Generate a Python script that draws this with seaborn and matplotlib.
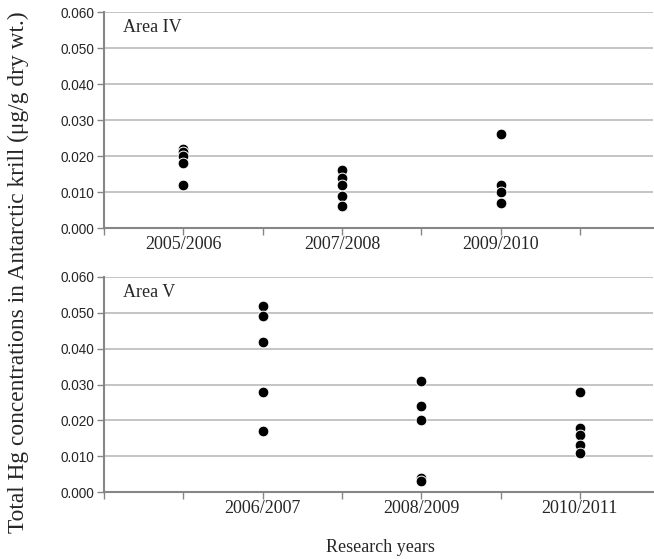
import matplotlib
matplotlib.use("Agg")
import matplotlib.pyplot as plt
import seaborn as sns
import pandas as pd
import numpy as np

# ---- data ----
top_years = ["2005/2006", "2007/2008", "2009/2010"]
top_values = [
    [0.022, 0.021, 0.020, 0.018, 0.012],
    [0.016, 0.014, 0.012, 0.009, 0.006],
    [0.026, 0.012, 0.010, 0.007],
]
bottom_years = ["2006/2007", "2008/2009", "2010/2011"]
bottom_values = [
    [0.052, 0.049, 0.042, 0.028, 0.017],
    [0.031, 0.024, 0.020, 0.004, 0.003],
    [0.028, 0.018, 0.016, 0.013, 0.011],
]
y_ticks = [0.0, 0.01, 0.02, 0.03, 0.04, 0.05, 0.06]
panel_titles = ["Area IV", "Area V"]
y_label = "Total Hg concentrations in Antarctic krill (μg/g dry wt.)"
x_label = "Research years"

sns.set_theme(style="white")
plt.rcParams["font.family"] = ["DejaVu Sans"]

W, H = 654, 559
fig = plt.figure(figsize=(W / 100, H / 100), dpi=100)

unit = 79.3
left_px = 104
width_px = 549
ax_top = fig.add_axes([left_px / W, 1 - 228 / H, width_px / W, 216 / H])
ax_bot = fig.add_axes([left_px / W, 1 - 492 / H, width_px / W, 215 / H])

def make_df(years, values, offset):
    rows = []
    for i, (yr, vals) in enumerate(zip(years, values)):
        for v in vals:
            rows.append({"year": yr, "pos": offset + 2 * i, "hg": v})
    return pd.DataFrame(rows)

grid_c = "#b4b4b4"
spine_c = "#868686"

for ax, years, values, offset, title in [
    (ax_top, top_years, top_values, 1, panel_titles[0]),
    (ax_bot, bottom_years, bottom_values, 2, panel_titles[1]),
]:
    df = make_df(years, values, offset)
    sns.scatterplot(data=df, x="pos", y="hg", ax=ax, color="black",
                    s=60, edgecolor="white", linewidth=0.7, zorder=3,
                    legend=False)
    ax.set_xlim(0, width_px / unit)
    ax.set_ylim(0, 0.06)
    ax.set_yticks(y_ticks)
    ax.set_yticklabels([f"{t:.3f}" for t in y_ticks],
                       fontfamily="Liberation Sans", fontsize=9.8)
    ax.yaxis.grid(True, color=grid_c, linewidth=1.1)
    ax.xaxis.grid(False)
    ticks = list(range(0, 7))
    labels = [""] * len(ticks)
    for i, yr in enumerate(years):
        labels[offset + 2 * i] = yr
    ax.set_xticks(ticks)
    ax.set_xticklabels(labels, fontfamily="Liberation Serif", fontsize=13)
    ax.tick_params(axis="both", which="major", direction="out", length=5,
                   width=1, color=spine_c, bottom=True, left=True, pad=2)
    ax.tick_params(axis="x", pad=1)
    for s in ["top", "right"]:
        ax.spines[s].set_visible(False)
    for s in ["left", "bottom"]:
        ax.spines[s].set_color(spine_c)
        ax.spines[s].set_linewidth(1.5)
    ax.set_xlabel("")
    ax.set_ylabel("")
    ax.text(0.035, 0.93, title, transform=ax.transAxes,
            fontfamily="Liberation Serif", fontsize=13, va="center", ha="left")

fig.text(18 / W, 1 - 272 / H, y_label, rotation=90, ha="center", va="center",
         fontfamily="Liberation Serif", fontsize=16.8)
fig.text(380 / W, 1 - 548 / H, x_label, ha="center", va="center",
         fontfamily="Liberation Serif", fontsize=13)

fig.savefig("out.png", dpi=100)
